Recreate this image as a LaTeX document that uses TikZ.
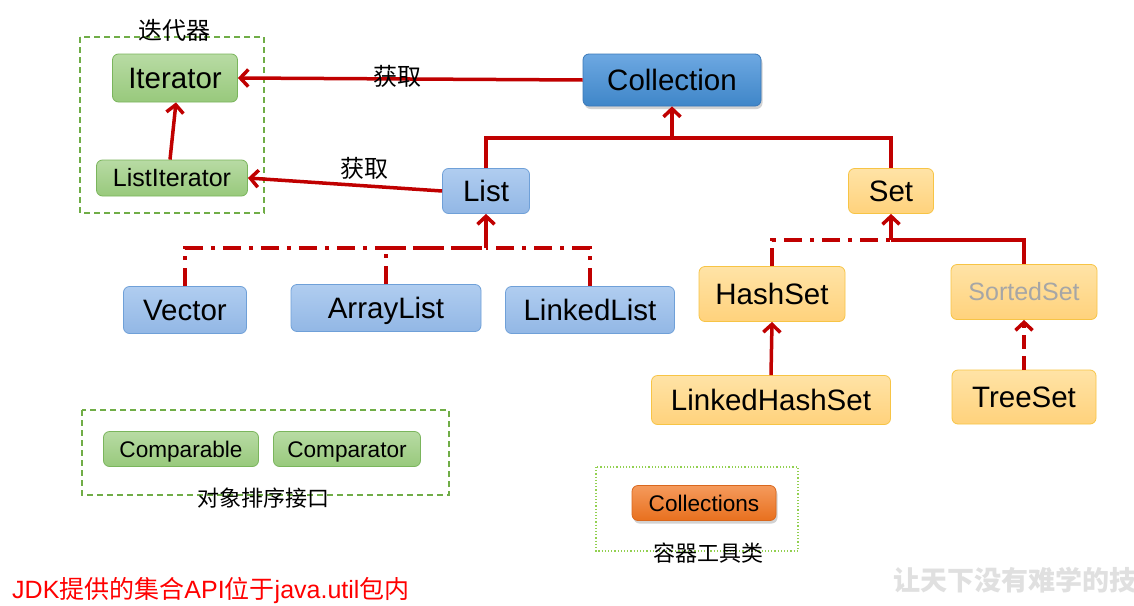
\documentclass[tikz,border=0pt]{standalone}
\usepackage{fontspec}
\setmainfont{Liberation Sans}
\newfontfamily\cjk{Noto Sans CJK SC}
\usetikzlibrary{arrows.meta,shadows}
\definecolor{redc}{HTML}{C00000}
\definecolor{grnT}{HTML}{B8DBA4}
\definecolor{grnB}{HTML}{98C97C}
\definecolor{grnD}{HTML}{7AB55C}
\definecolor{bluT}{HTML}{B0CDF0}
\definecolor{bluB}{HTML}{92B7E5}
\definecolor{bluD}{HTML}{6FA0D8}
\definecolor{colT}{HTML}{6DA8E2}
\definecolor{colB}{HTML}{3F86C8}
\definecolor{colD}{HTML}{3A78B8}
\definecolor{orT}{HTML}{FFE3A6}
\definecolor{orB}{HTML}{FFD27C}
\definecolor{orD}{HTML}{F7C445}
\definecolor{cT}{HTML}{F59A5C}
\definecolor{cB}{HTML}{E8701E}
\definecolor{cD}{HTML}{D9681E}
\definecolor{dashg}{HTML}{70AD47}
\definecolor{dotg}{HTML}{92D050}
\begin{document}
\begin{tikzpicture}[x=1pt,y=-1pt,
  box/.style={rounded corners=6pt, inner sep=0pt, align=center, line width=0.8pt, text depth=0pt},
  gbox/.style={box, top color=grnT, bottom color=grnB, draw=grnD},
  lbbox/.style={box, top color=bluT, bottom color=bluB, draw=bluD},
  obox/.style={box, top color=orT, bottom color=orB, draw=orD},
  big/.style={font=\fontsize{29.5}{31}\selectfont, text height=21.1pt},
  mid/.style={font=\fontsize{25}{27}\selectfont, text height=17.9pt},
  sml/.style={font=\fontsize{22.6}{24}\selectfont, text height=16.2pt},
  rl/.style={draw=redc, line width=3.5pt},
  arr/.style={rl, -{Straight Barb[length=8pt,width=17pt]}},
  dashdot/.style={dash pattern=on 18pt off 8pt on 4pt off 8pt},
  lab/.style={font=\cjk\fontsize{22}{24}\selectfont, inner sep=0pt},
]
\useasboundingbox (0,0) rectangle (1134,605);
\fill[white] (0,0) rectangle (1134,605);

% group frames
\draw[dashg, line width=1.2pt, dash pattern=on 6pt off 4pt] (80,37) rectangle (264,213);
\draw[dashg, line width=1.2pt, dash pattern=on 6pt off 4pt] (82,410) rectangle (449,495);
\draw[dotg, line width=1.2pt, dotted] (596,467) rectangle (798,551);

% nodes
\node[gbox, big, minimum width=125pt, minimum height=48pt] (it) at (175,78) {Iterator};
\node[gbox, mid, minimum width=151pt, minimum height=36pt] (lit) at (172,178) {ListIterator};
\node[box, big, top color=colT, bottom color=colB, draw=colD, minimum width=178pt, minimum height=52pt,
      drop shadow={shadow xshift=1.5pt, shadow yshift=-3pt, opacity=0.35}] (col) at (672,80) {Collection};
\node[lbbox, big, minimum width=87pt, minimum height=45pt] (list) at (486,191) {List};
\node[obox, big, minimum width=85pt, minimum height=45pt] (set) at (891,191) {Set};
\node[lbbox, big, minimum width=123pt, minimum height=47pt] (vec) at (185,310) {Vector};
\node[lbbox, big, minimum width=190pt, minimum height=47pt] (al) at (386,308) {ArrayList};
\node[lbbox, big, minimum width=169pt, minimum height=47pt] (ll) at (590,310) {LinkedList};
\node[obox, big, minimum width=146pt, minimum height=55pt] (hs) at (772,294) {HashSet};
\node[obox, mid, text=black!35, minimum width=146pt, minimum height=55pt] (ss) at (1024,292) {SortedSet};
\node[obox, big, minimum width=239pt, minimum height=49pt] (lhs) at (771,400) {LinkedHashSet};
\node[obox, big, minimum width=144pt, minimum height=54pt] (ts) at (1024,397) {TreeSet};
\node[gbox, sml, minimum width=155pt, minimum height=35pt] (cmpb) at (181,449) {Comparable};
\node[gbox, sml, minimum width=147pt, minimum height=35pt] (cmpt) at (347,449) {Comparator};
\node[box, sml, top color=cT, bottom color=cB, draw=cD, minimum width=144pt, minimum height=35pt,
      drop shadow={shadow xshift=1.5pt, shadow yshift=-3pt, opacity=0.35}] (cols) at (704,503) {Collections};

% helper coordinates
\coordinate (bus) at (672,138);
\coordinate (lbus) at (486,248);
\coordinate (sbus) at (891,240);

% connectors
\draw[arr] (col.west) -- (it.east);
\draw[arr] (list.west) -- (lit.east);
\draw[arr] ([xshift=-2pt]lit.north) -- ([xshift=1pt]it.south);
\draw[rl] (list.north) |- (bus) -| (set.north);
\draw[arr] (bus) -- (col.south);

\draw[rl, dashdot] (vec.north) |- (lbus);
\draw[rl, dashdot] (al.north) |- (lbus);
\draw[rl, dashdot] (ll.north) |- (lbus);
\draw[arr] (lbus) -- (list.south);

\draw[rl, dashdot] (hs.north) |- (sbus);
\draw[rl] (ss.north) |- (sbus);
\draw[arr] (sbus) -- (set.south);
\draw[arr] (lhs.north) -- (hs.south);
\draw[arr, dash pattern=on 14pt off 7pt] (ts.north) -- (ss.south);

% labels
\node[lab, font=\cjk\fontsize{24}{26}\selectfont] (l1) at (174,30) {迭代器};
\node[lab, font=\cjk\fontsize{24}{26}\selectfont] (l2) at (397,76) {获取};
\node[lab, font=\cjk\fontsize{24}{26}\selectfont] (l3) at (364,168) {获取};
\node[lab] (l4) at (263,498) {对象排序接口};
\node[lab] (l5) at (708,553) {容器工具类};
\node[inner sep=0pt, anchor=west, text=red, font=\fontsize{25}{27}\selectfont] (jdk) at (12,590)
  {JDK{\cjk 提供的集合}API{\cjk 位于}java.util{\cjk 包内}};
\node[inner sep=0pt, anchor=west, text=black!12, font=\cjk\bfseries\fontsize{27}{29}\selectfont] (wm) at (893,580)
  {让天下没有难学的技};
\end{tikzpicture}
\end{document}
